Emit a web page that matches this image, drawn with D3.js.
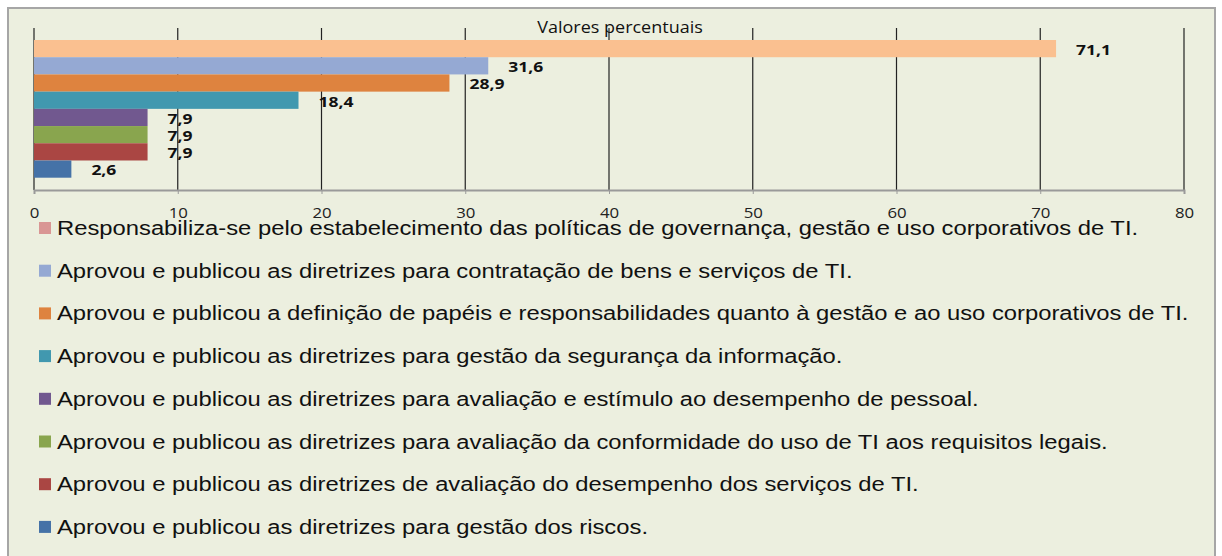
<!DOCTYPE html>
<html lang="pt">
  <head>
    <meta charset="utf-8">
    <script src="https://cdn.jsdelivr.net/npm/d3@7"></script>
    <style>
      body {
        margin: 0;
        background: #fff;
      }
      svg {
        display: block;
      }
      .tick text {
        font-family: 'Open Sans', sans-serif;
        font-size: 15px;
        fill: #222;
      }
      .bar-label {
        font-family: 'Open Sans', sans-serif;
        font-size: 14px;
        font-weight: 700;
        fill: #111;
      }
      .legend text {
        font-family: 'Liberation Sans', Arial, sans-serif;
        font-size: 20px;
        fill: #111;
      }
    </style>
  </head>
  <body>
    <svg></svg>
  </body>
  <script>

    const categories = [
      'Responsabiliza-se pelo estabelecimento das políticas de governança, gestão e uso corporativos de TI.',
      'Aprovou e publicou as diretrizes para contratação de bens e serviços de TI.',
      'Aprovou e publicou a definição de papéis e responsabilidades quanto à gestão e ao uso corporativos de TI.',
      'Aprovou e publicou as diretrizes para gestão da segurança da informação.',
      'Aprovou e publicou as diretrizes para avaliação e estímulo ao desempenho de pessoal.',
      'Aprovou e publicou as diretrizes para avaliação da conformidade do uso de TI aos requisitos legais.',
      'Aprovou e publicou as diretrizes de avaliação do desempenho dos serviços de TI.',
      'Aprovou e publicou as diretrizes para gestão dos riscos.'
    ];
    const values = [71.1, 31.6, 28.9, 18.4, 7.9, 7.9, 7.9, 2.6];
    const labels = ['71,1', '31,6', '28,9', '18,4', '7,9', '7,9', '7,9', '2,6'];
    const xTicks = [0, 10, 20, 30, 40, 50, 60, 70, 80];
    const barColors = ['#fac090', '#95a9d3', '#de833f', '#4198af', '#71588f', '#89a54e', '#aa4643', '#4572a7'];
    const legendColors = ['#d99694', '#95a9d3', '#de833f', '#4198af', '#71588f', '#89a54e', '#aa4643', '#4572a7'];

    const W = 1222, H = 556;
    // the source picture is stretched sideways, so texts get a horizontal scale
    const stretch = 1.19;
    const svg = d3.select('svg').attr('width', W).attr('height', H);

    // outer box
    svg.append('rect')
      .attr('x', 8).attr('y', 8)
      .attr('width', 1207).attr('height', 560)
      .attr('fill', '#ecefdf')
      .attr('stroke', '#a6a6a6')
      .attr('stroke-width', 2);

    const plot = { left: 34, right: 1184, top: 40, bottom: 177.7, gridTop: 28, axisY: 190 };

    const x = d3.scaleLinear().domain([0, 80]).range([plot.left, plot.right]);
    const y = d3.scaleBand().domain(d3.range(values.length)).range([plot.top, plot.bottom]).padding(0);

    // gridlines
    svg.append('g')
      .selectAll('line')
      .data(xTicks)
      .enter().append('line')
        .attr('x1', d => x(d)).attr('x2', d => x(d))
        .attr('y1', plot.gridTop).attr('y2', plot.axisY)
        .attr('stroke', '#222')
        .attr('stroke-width', 1.2);

    // x axis
    const axis = svg.append('g')
      .attr('transform', 'translate(0,' + plot.axisY + ')')
      .call(d3.axisBottom(x).tickValues(xTicks).tickSize(4).tickPadding(0));
    axis.select('.domain').attr('stroke', '#9a9a9a').attr('stroke-width', 2);
    axis.selectAll('.tick line').attr('stroke', '#9a9a9a');
    axis.selectAll('.tick text')
      .attr('y', 0).attr('dy', 0)
      .attr('transform', 'translate(0,28) scale(1.12,1)');

    // title
    svg.append('text')
      .attr('transform', 'translate(620,33) scale(1.06,1)')
      .attr('text-anchor', 'middle')
      .style('font-family', "'Open Sans', sans-serif")
      .style('font-size', '17px')
      .style('fill', '#111')
      .text('Valores percentuais');

    // bars
    svg.append('g')
      .selectAll('rect')
      .data(values)
      .enter().append('rect')
        .attr('x', x(0))
        .attr('y', (d, i) => y(i))
        .attr('width', d => x(d) - x(0))
        .attr('height', y.bandwidth())
        .attr('fill', (d, i) => barColors[i]);

    // value labels
    svg.append('g')
      .selectAll('text')
      .data(values)
      .enter().append('text')
        .attr('class', 'bar-label')
        .attr('transform', (d, i) => 'translate(' + (x(d) + 20) + ',' + (y(i) + y.bandwidth() / 2 + 1.5) + ') scale(1.25,1)')
        .attr('dy', '0.35em')
        .text((d, i) => labels[i]);

    // legend
    const legend = svg.append('g').attr('class', 'legend');
    const rows = legend.selectAll('g')
      .data(categories)
      .enter().append('g')
        .attr('transform', (d, i) => 'translate(39,' + (228 + i * 42.7) + ')');
    rows.append('rect')
      .attr('x', 0).attr('y', -6)
      .attr('width', 12).attr('height', 12)
      .attr('fill', (d, i) => legendColors[i]);
    rows.append('text')
      .attr('transform', 'translate(18,0) scale(' + stretch + ',1)')
      .attr('dy', '0.35em')
      .text(d => d);

  </script>
</html>
